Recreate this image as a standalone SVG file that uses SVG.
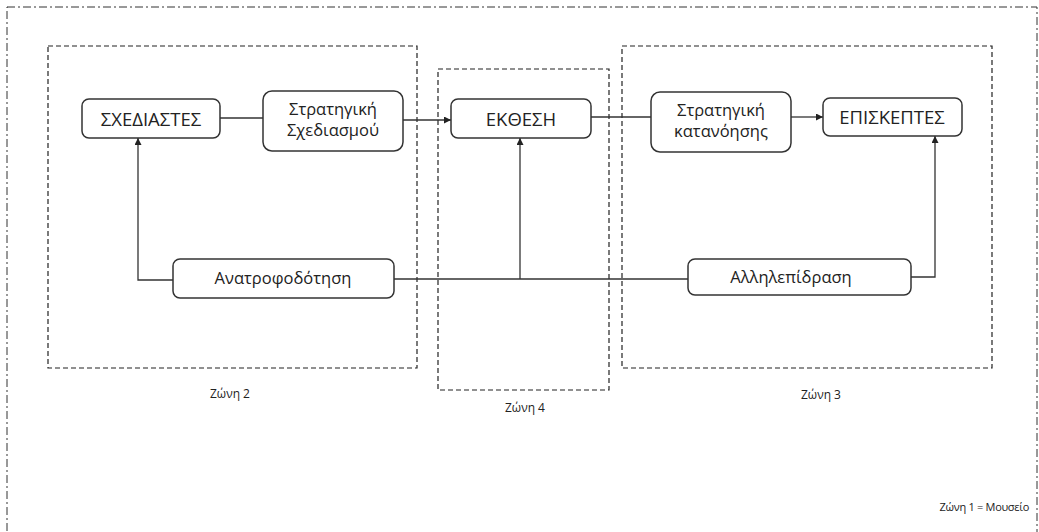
<svg xmlns="http://www.w3.org/2000/svg" width="1039" height="532" viewBox="0 0 1039 532">
<defs>
<marker id="arr" viewBox="0 0 10 10" refX="10" refY="5" markerWidth="7" markerHeight="7" orient="auto" markerUnits="userSpaceOnUse"><path d="M0,0 L10,5 L0,10 z" fill="#222"/></marker>
<style>
.zone{fill:none;stroke:#222;stroke-width:1.2;stroke-dasharray:5,3}
.outer{fill:none;stroke:#333;stroke-width:1;stroke-dasharray:8,3,2,3}
.node rect{fill:#fff;stroke:#333;stroke-width:1.5}
.node text{font-family:"Open Sans","Noto Sans",sans-serif;fill:#222;text-anchor:middle}
.big{font-size:18.5px}
.small{font-size:16.5px}
.lbl{font-family:"Open Sans","Noto Sans",sans-serif;font-size:12px;fill:#222;text-anchor:middle}
.c{fill:none;stroke:#333;stroke-width:1.3}
</style>
</defs>
<rect width="1039" height="532" fill="#fff"/>
<rect class="outer" x="7" y="7" width="1030" height="560"/>
<g id="zone2"><rect class="zone" x="48" y="46" width="369" height="322"/><text class="lbl" x="230" y="398">Ζώνη 2</text></g>
<g id="zone4"><rect class="zone" x="438" y="69" width="171" height="321"/><text class="lbl" x="525" y="412">Ζώνη 4</text></g>
<g id="zone3"><rect class="zone" x="622" y="46" width="370" height="322"/><text class="lbl" x="821" y="399">Ζώνη 3</text></g>
<text class="lbl" x="1029" y="511" style="text-anchor:end;font-size:11px;letter-spacing:-0.3px">Ζώνη 1 = Μουσείο</text>
<g id="connectors">
<path class="c" d="M220,118 H263"/>
<path class="c" d="M403,120 H451" marker-end="url(#arr)"/>
<path class="c" d="M591,117 H651"/>
<path class="c" d="M791,117 H823" marker-end="url(#arr)"/>
<path class="c" d="M173,280 H138 V138" marker-end="url(#arr)"/>
<path class="c" d="M394,279 H688"/>
<path class="c" d="M520,279 V138" marker-end="url(#arr)"/>
<path class="c" d="M911,277 H935 V136" marker-end="url(#arr)"/>
</g>
<g id="n-sxediastes" class="node"><rect x="82" y="99" width="138" height="39" rx="7"/><text class="big" x="151" y="126">ΣΧΕΔΙΑΣΤΕΣ</text></g>
<g id="n-strat-sxed" class="node"><rect x="263" y="91" width="140" height="60" rx="9"/><text class="small" x="333" y="115">Στρατηγική</text><text class="small" x="333" y="136">Σχεδιασμού</text></g>
<g id="n-ekthesi" class="node"><rect x="451" y="99" width="140" height="39" rx="7"/><text class="big" x="521" y="126">ΕΚΘΕΣΗ</text></g>
<g id="n-strat-katan" class="node"><rect x="651" y="92" width="140" height="60" rx="9"/><text class="small" x="721" y="116">Στρατηγική</text><text class="small" x="721" y="137">κατανόησης</text></g>
<g id="n-episkeptes" class="node"><rect x="823" y="98" width="139" height="38" rx="7"/><text class="big" x="892" y="124">ΕΠΙΣΚΕΠΤΕΣ</text></g>
<g id="n-anatrof" class="node"><rect x="173" y="259" width="221" height="39" rx="7"/><text class="small" x="283" y="284">Ανατροφοδότηση</text></g>
<g id="n-allilep" class="node"><rect x="688" y="259" width="223" height="36" rx="7"/><text class="small" x="791" y="283">Αλληλεπίδραση</text></g>
</svg>
